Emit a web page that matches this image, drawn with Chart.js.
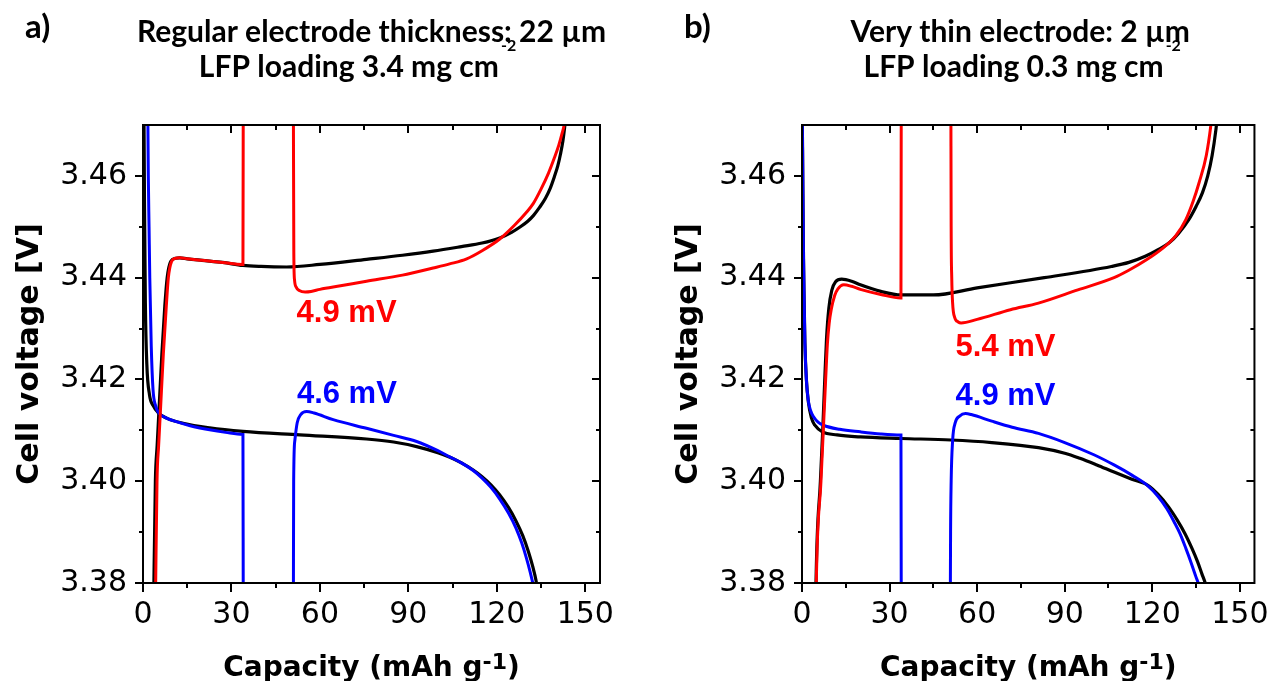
<!DOCTYPE html>
<html>
<head>
<meta charset="utf-8">
<script src="https://cdn.jsdelivr.net/npm/chart.js@4.4.1/dist/chart.umd.min.js"></script>
<style>
  html, body { margin: 0; padding: 0; background: #fff; }
  #wrap { position: relative; width: 1274px; height: 681px; }
  .panel { position: absolute; top: 0; width: 637px; height: 681px; }
  #pa { left: 0; }
  #pb { left: 637px; }
</style>
</head>
<body>
<div id="wrap">
  <div class="panel" id="pa"><canvas id="chartA"></canvas></div>
  <div class="panel" id="pb"><canvas id="chartB"></canvas></div>
</div>
<script>
// axes
const capRange = [0, 155];
const voltRange = [3.38, 3.47];
const capMajor = [0, 30, 60, 90, 120, 150];
const capMinor = [15, 45, 75, 105, 135];
const voltMajor = [3.38, 3.40, 3.42, 3.44, 3.46];
const voltMinor = [3.39, 3.41, 3.43, 3.45];

const RED = '#ff0000', BLUE = '#0000ff', BLACK = '#000000';

// a) 22 um electrode, [capacity mAh/g, voltage V]
const aBlackDis = [[0.3,3.475],[0.5,3.455],[0.8,3.435],[1.3,3.423],[2.2,3.417],[3.5,3.4148],[5.1,3.4135],
  [8,3.4124],[13.6,3.4114],[22.6,3.4105],[33.9,3.4098],[53.2,3.4091],[75.8,3.4083],[85,3.4077],[92.8,3.4068],
  [100,3.4056],[104.1,3.4047],[108,3.4036],[112,3.4022],[115,3.4009],[118,3.3993],[121,3.3973],[124,3.3948],
  [126.5,3.3922],[128.8,3.3893],[130.7,3.3862],[132.2,3.3832],[133.3,3.3805],[133.7,3.3790]];
const aBlackChg = [[3.6,3.375],[3.7,3.38],[4.2,3.40],[4.8,3.407],[5.4,3.4137],[6.4,3.425],[7.4,3.4344],
  [8.2,3.440],[9.4,3.4432],[11,3.4438],[12.5,3.4439],[15,3.4437],[20,3.4434],[27,3.443],[33.9,3.4424],
  [40,3.4422],[48.7,3.4421],[60,3.4426],[75.8,3.4436],[88,3.4444],[98.4,3.4452],[108,3.4461],[115,3.4468],
  [121,3.4478],[125,3.4489],[128,3.4500],[130.5,3.4511],[132.4,3.4522],[134.5,3.4538],[136.5,3.4556],
  [138,3.4574],[139.5,3.4598],[140.7,3.4620],[141.6,3.4643],[142.4,3.4668],[143.0,3.4695],[143.3,3.4712]];
const aBlueDis1 = [[1.6,3.475],[1.8,3.46],[2.05,3.45],[2.3,3.44],[2.8,3.4265],[3.4,3.418],[4.3,3.4148],
  [5.1,3.4136],[8,3.4124],[11.3,3.4117],[16,3.4109],[22.6,3.4101],[28,3.4096],[33.8,3.4092],[33.9,3.4092],
  [34.0,3.375]];
const aBlueDis2 = [[51.0,3.375],[51.1,3.40],[51.5,3.408],[52.3,3.4115],[53.5,3.4131],[55.5,3.4137],
  [58,3.4134],[64.5,3.4121],[75.8,3.4104],[85,3.409],[92.8,3.4078],[100,3.4060],[104,3.4048],
  [108,3.4036],[112,3.4021],[115,3.4006],[118,3.3988],[121,3.3965],[124,3.3937],[126.5,3.3908],
  [128.5,3.3878],[130,3.3850],[131.3,3.3822],[132.4,3.3795]];
const aRedChg1 = [[4.2,3.375],[4.3,3.38],[4.75,3.40],[5.3,3.407],[5.9,3.4137],[6.9,3.425],[7.9,3.4344],
  [8.6,3.440],[9.7,3.4432],[11,3.4438],[12.5,3.4439],[15,3.4437],[20,3.4434],[27,3.443],[33.8,3.4426],
  [33.9,3.4426],[34.0,3.475]];
const aRedChg2 = [[51.0,3.475],[51.15,3.445],[51.4,3.4395],[52,3.4381],[53,3.4375],[55,3.4372],[57,3.4373],
  [60,3.4377],[67,3.4384],[75.8,3.4393],[88,3.4405],[98.4,3.4419],[104,3.4427],[109.8,3.4437],[115,3.4453],
  [121,3.4476],[126,3.4503],[130,3.4528],[132.4,3.4546],[135,3.4574],[137.5,3.4605],[139.5,3.4635],
  [141,3.4660],[142.2,3.4685],[142.9,3.4702],[143.1,3.4712]];

// b) 2 um electrode
const bBlackDis = [[0,3.475],[0.2,3.465],[0.45,3.4468],[0.75,3.435],[1.0,3.4271],[1.5,3.42],[2.2,3.4155],
  [3.2,3.4125],[4.4,3.411],[7,3.4097],[12,3.4091],[20,3.4087],[34,3.4084],[51,3.4081],[65,3.4076],
  [81,3.4066],[90,3.4055],[95.2,3.4045],[101,3.4032],[106.9,3.4018],[113,3.4004],[118.5,3.3992],
  [122,3.3974],[125.5,3.3950],[128.5,3.3924],[131.3,3.3896],[133.6,3.3868],[135.5,3.3842],[137.0,3.3818],
  [138.3,3.3797],[138.6,3.3790]];
const bBlackChg = [[4.7,3.375],[4.8,3.38],[6.3,3.40],[7.1,3.41],[7.8,3.42],[8.4,3.428],[9.2,3.434],
  [10.2,3.4375],[11.5,3.4392],[13.6,3.4397],[17,3.4393],[20,3.4386],[27,3.4373],[34,3.4366],[45,3.4366],
  [60,3.438],[83,3.440],[106,3.4422],[112,3.4430],[117.6,3.4442],[122,3.4455],[125.7,3.4468],[129,3.4487],
  [132.5,3.4514],[135,3.4540],[137.2,3.4567],[139,3.460],[140.5,3.464],[141.8,3.4691],[142.2,3.4712]];
const bBlueDis1 = [[0,3.475],[0.2,3.465],[0.45,3.4468],[0.75,3.435],[1.0,3.4271],[1.5,3.42],[2.1,3.416],
  [3.0,3.4138],[3.9,3.4127],[5.5,3.4116],[7.3,3.411],[12.9,3.4102],[20,3.4097],[27,3.4093],[33.8,3.4091],
  [33.9,3.4091],[34.0,3.375]];
const bBlueDis2 = [[50.8,3.375],[50.9,3.39],[51.1,3.40],[51.6,3.408],[52.5,3.4115],[54,3.4128],[56,3.4133],
  [58,3.4131],[65,3.4118],[72,3.4106],[81,3.4094],[90,3.4076],[100,3.4052],[106.9,3.4032],[113,3.4012],
  [118.5,3.3991],[122,3.3970],[125,3.3946],[127.5,3.3920],[129.5,3.3897],[131.5,3.3868],[133.3,3.3840],
  [134.9,3.3813],[136.4,3.3787],[136.6,3.3780]];
const bRedChg1 = [[4.8,3.375],[4.9,3.38],[6.5,3.40],[7.3,3.41],[8.1,3.42],[8.7,3.427],[9.3,3.431],
  [10,3.4337],[11.2,3.4365],[12.3,3.4378],[14.3,3.4386],[17,3.4383],[20,3.4377],[27,3.4367],[33.8,3.4360],
  [33.9,3.436],[34.0,3.475]];
const bRedChg2 = [[51.0,3.475],[51.1,3.45],[51.3,3.44],[51.6,3.435],[52.3,3.4322],[53.5,3.4313],
  [54.5,3.4311],[60,3.4318],[71.4,3.4337],[81,3.435],[94.5,3.4376],[106.9,3.440],[111.8,3.4414],
  [118,3.4435],[123.4,3.4457],[128,3.4482],[131.5,3.4514],[134,3.455],[136,3.4586],[138.5,3.464],
  [140.1,3.4701],[140.3,3.4712]];

// polarization labels, placed at [capacity, voltage] of the text baseline start
const aNotes = [{ text: '4.9 mV', color: RED, at: [52.1, 3.4312] }, { text: '4.6 mV', color: BLUE, at: [52.2, 3.4153] }];
const bNotes = [{ text: '5.4 mV', color: RED, at: [52.6, 3.4246] }, { text: '4.9 mV', color: BLUE, at: [52.6, 3.4150] }];

const panelA = {
  letter: 'a)', title1: 'Regular electrode thickness: 22 µm', title2: 'LFP loading 3.4 mg cm', sup: '-2',
  t1dx: 0, t2dx: -15, axisWidth: 143, padRight: 37, notes: aNotes,
  curves: [
    { pts: aBlackDis, color: BLACK, order: 2 }, { pts: aBlackChg, color: BLACK, order: 2 },
    { pts: aBlueDis1, color: BLUE, order: 1 }, { pts: aBlueDis2, color: BLUE, order: 1 },
    { pts: aRedChg1, color: RED, order: 0 }, { pts: aRedChg2, color: RED, order: 0 }
  ]
};
const panelB = {
  letter: 'b)', title1: 'Very thin electrode: 2 µm', title2: 'LFP loading 0.3 mg cm', sup: '-2',
  t1dx: -8, t2dx: -7, axisWidth: 165, padRight: 16, notes: bNotes,
  curves: [
    { pts: bBlackDis, color: BLACK, order: 2 }, { pts: bBlackChg, color: BLACK, order: 2 },
    { pts: bBlueDis1, color: BLUE, order: 1 }, { pts: bBlueDis2, color: BLUE, order: 1 },
    { pts: bRedChg1, color: RED, order: 0 }, { pts: bRedChg2, color: RED, order: 0 }
  ]
};

const TICK_FONT = '"DejaVu Sans", sans-serif';
const XTITLE_FONT = 'bold 28px "DejaVu Sans", sans-serif';
const YTITLE_FONT = 'bold 30px "DejaVu Sans", sans-serif';
const SUP_FONT = 'bold 22px "DejaVu Sans", sans-serif';
const TITLE_FAMILY = 'Lato, "Open Sans", sans-serif';

// frame, mirrored ticks, axis titles, panel titles and mV labels
function makeDecor(panel) {
  return {
    id: 'decor',
    afterDraw(chart) {
      const { ctx, chartArea: a, scales: { x, y } } = chart;
      ctx.save();
      ctx.strokeStyle = '#000';
      ctx.lineWidth = 2;
      ctx.strokeRect(a.left, a.top, a.right - a.left, a.bottom - a.top);

      ctx.beginPath();
      const seg = (x1, y1, x2, y2) => { ctx.moveTo(x1, y1); ctx.lineTo(x2, y2); };
      capMajor.concat(capMinor).forEach(v => {
        const px = Math.round(x.getPixelForValue(v));
        const major = capMajor.includes(v);
        seg(px, a.bottom, px, a.bottom + (major ? 9 : 5));
        seg(px, a.top, px, a.top + (major ? 8 : 5));
      });
      voltMajor.concat(voltMinor).forEach(v => {
        const py = Math.round(y.getPixelForValue(v));
        const major = voltMajor.includes(v);
        seg(a.left, py, a.left - (major ? 8 : 4), py);
        seg(a.right, py, a.right - (major ? 8 : 4), py);
      });
      ctx.stroke();

      ctx.fillStyle = '#000';
      // x axis title with superscript
      const cx = (a.left + a.right) / 2;
      ctx.font = XTITLE_FONT;
      const p1 = 'Capacity (mAh g', p3 = ')';
      const w1 = ctx.measureText(p1).width, w3 = ctx.measureText(p3).width;
      ctx.font = SUP_FONT;
      const w2 = ctx.measureText('-1').width;
      const sx = cx - (w1 + w2 + w3) / 2;
      const base = a.bottom + 93;
      ctx.textAlign = 'left';
      ctx.textBaseline = 'alphabetic';
      ctx.font = XTITLE_FONT;
      ctx.fillText(p1, sx, base);
      ctx.font = SUP_FONT;
      ctx.fillText('-1', sx + w1, base - 7);
      ctx.font = XTITLE_FONT;
      ctx.fillText(p3, sx + w1 + w2, base);

      // y axis title
      ctx.save();
      ctx.translate(a.left - 105, (a.top + a.bottom) / 2);
      ctx.rotate(-Math.PI / 2);
      ctx.textAlign = 'center';
      ctx.font = YTITLE_FONT;
      ctx.fillText('Cell voltage [V]', 0, 0);
      ctx.restore();

      // panel letter and two-line title
      ctx.textAlign = 'left';
      ctx.font = 'bold 33px ' + TITLE_FAMILY;
      ctx.fillText(panel.letter, a.left - 118, 38);
      ctx.font = 'bold 30px ' + TITLE_FAMILY;
      ctx.textAlign = 'center';
      ctx.fillText(panel.title1, cx + panel.t1dx, 42);
      const tw = ctx.measureText(panel.title2).width;
      ctx.font = 'bold 16px ' + TITLE_FAMILY;
      const sw = ctx.measureText(panel.sup).width;
      const tx = cx + panel.t2dx - (tw + sw) / 2;
      ctx.textAlign = 'left';
      ctx.font = 'bold 30px ' + TITLE_FAMILY;
      ctx.fillText(panel.title2, tx, 77);
      ctx.font = 'bold 16px ' + TITLE_FAMILY;
      ctx.fillText(panel.sup, tx + tw + 2, 51);

      // polarization labels
      ctx.font = 'bold 31px "Liberation Sans", Arial, sans-serif';
      panel.notes.forEach(n => {
        ctx.fillStyle = n.color;
        ctx.fillText(n.text, x.getPixelForValue(n.at[0]), y.getPixelForValue(n.at[1]));
      });
      ctx.restore();
    }
  };
}

function makeChart(id, panel) {
  return new Chart(document.getElementById(id), {
    type: 'line',
    data: {
      datasets: panel.curves.map(c => ({
        data: c.pts.map(p => ({ x: p[0], y: p[1] })),
        borderColor: c.color,
        borderWidth: c.color === BLACK ? 3.2 : 3,
        pointRadius: 0,
        fill: false,
        cubicInterpolationMode: 'monotone',
        order: c.order,
        clip: 0
      }))
    },
    options: {
      responsive: true,
      maintainAspectRatio: false,
      animation: false,
      events: [],
      layout: { padding: { left: 0, top: 125, right: panel.padRight, bottom: 0 } },
      plugins: { legend: { display: false }, tooltip: { enabled: false } },
      scales: {
        x: {
          type: 'linear', min: capRange[0], max: capRange[1],
          afterBuildTicks: s => { s.ticks = capMajor.concat(capMinor).sort((p, q) => p - q).map(v => ({ value: v })); },
          afterFit: s => { s.height = 98; },
          grid: { display: true, drawOnChartArea: false, drawTicks: true, tickLength: 9, color: 'rgba(0,0,0,0)' },
          border: { display: false },
          ticks: {
            autoSkip: false, maxRotation: 0, minRotation: 0, padding: 5, color: '#000',
            font: { family: TICK_FONT, size: 30 },
            callback: v => capMajor.includes(v) ? String(v) : ''
          }
        },
        y: {
          type: 'linear', min: voltRange[0], max: voltRange[1],
          afterBuildTicks: s => { s.ticks = voltMajor.concat(voltMinor).sort((p, q) => p - q).map(v => ({ value: v })); },
          afterFit: s => { s.width = panel.axisWidth; },
          grid: { display: true, drawOnChartArea: false, drawTicks: true, tickLength: 9, color: 'rgba(0,0,0,0)' },
          border: { display: false },
          ticks: {
            autoSkip: false, padding: 7, color: '#000',
            font: { family: TICK_FONT, size: 30 },
            callback: v => voltMajor.some(m => Math.abs(m - v) < 1e-6) ? v.toFixed(2) : ''
          }
        }
      }
    },
    plugins: [makeDecor(panel)]
  });
}

makeChart('chartA', panelA);
makeChart('chartB', panelB);
</script>
</body>
</html>
